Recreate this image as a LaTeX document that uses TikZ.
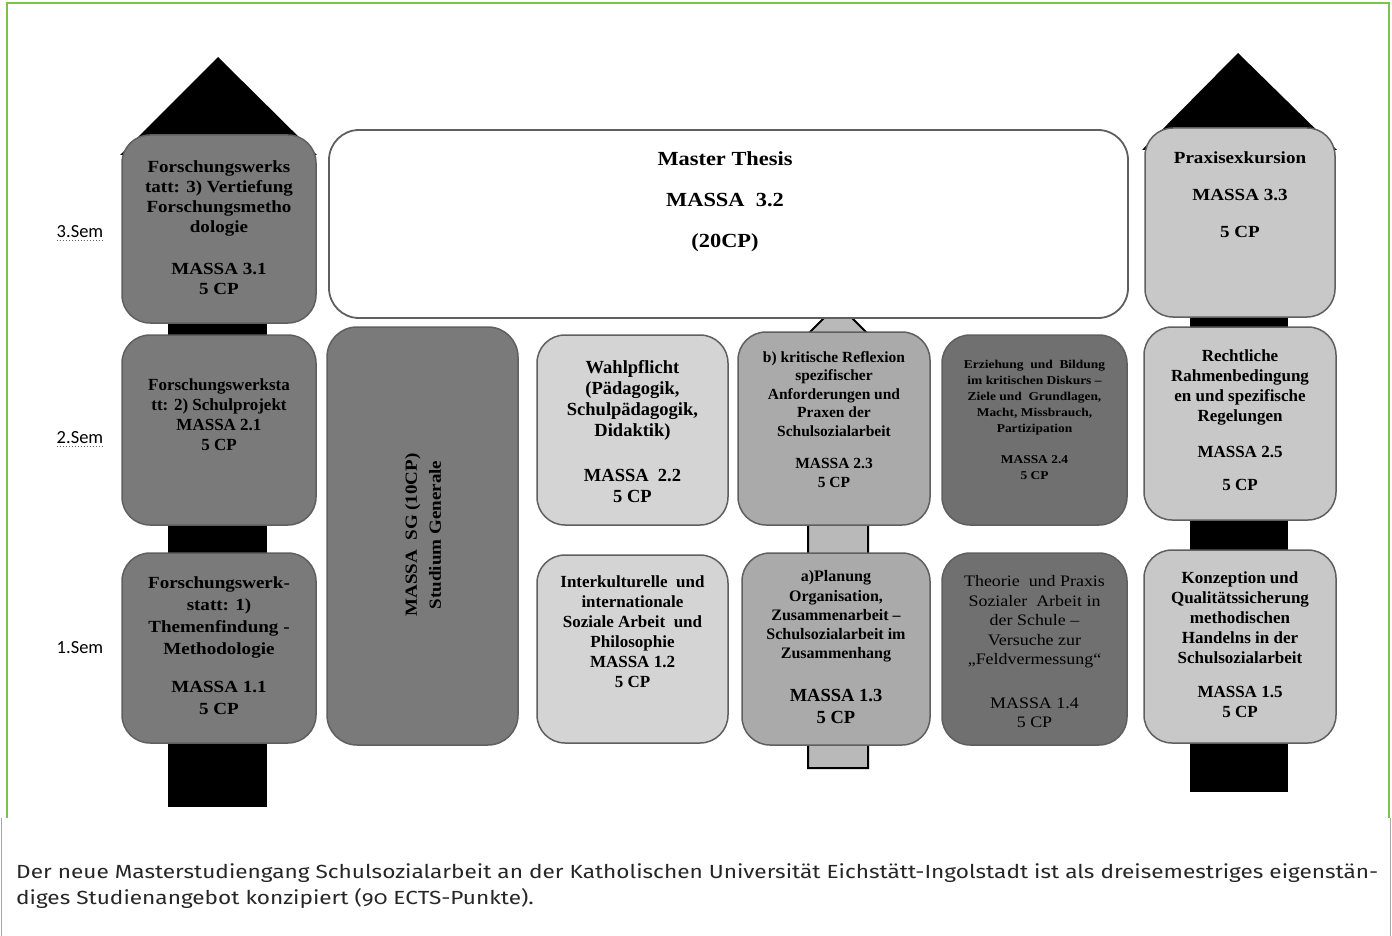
\documentclass[tikz,border=0pt]{standalone}
\usepackage{fontspec}
\setmainfont{Liberation Serif}
\newfontfamily\wide{Liberation Serif}[FakeStretch=1.12]
\newfontfamily\semfont{Carlito}
\newfontfamily\capfont{Fira Sans}[Numbers=OldStyle, FakeStretch=1.19]
\definecolor{cdark}{RGB}{122,122,122}
\definecolor{cdarker}{RGB}{112,112,112}
\definecolor{cmid}{RGB}{170,170,170}
\definecolor{clight}{RGB}{212,212,212}
\definecolor{cright}{RGB}{200,200,200}
\definecolor{cbar}{RGB}{185,185,185}
\definecolor{cborder}{RGB}{95,95,95}
\definecolor{cgreen}{RGB}{125,195,75}
\tikzset{
  mbox/.style={draw=cborder, line width=1.5pt, rounded corners=28pt, inner sep=0pt},
  lbl/.style={align=center, inner sep=0pt, font=\bfseries\fontsize{17}{20}\selectfont},
  wlbl/.style={align=center, inner sep=0pt, font=\wide\bfseries\fontsize{17}{20}\selectfont},
  semlbl/.style={inner sep=0pt, font=\semfont\fontsize{18.5}{20}\selectfont},
  caplbl/.style={inner sep=0pt, anchor=west, font=\capfont\fontsize{19}{22}\selectfont, text=black!85},
}
\begin{document}
\begin{tikzpicture}[x=1pt,y=-1pt]
\useasboundingbox (0,0) rectangle (1392,936);
% frame
\draw[cgreen, line width=1.2pt] (7,818) -- (7,3) -- (1389,3) -- (1389,818);
\draw[black!35, line width=0.8pt] (1.5,818) -- (1.5,936);
\draw[black!35, line width=0.8pt] (1390.5,818) -- (1390.5,936);
% roofs
\fill[black] (120,155) -- (218,57) -- (317,155) -- cycle;
\fill[black] (1142,150) -- (1238,53) -- (1337,150) -- cycle;
% spines
\fill[black] (168,150) rectangle (267,807);
\fill[black] (1190,150) rectangle (1288,792);
% central bar
\draw[fill=cbar, line width=2pt] (808,768) -- (868,768) -- (868,334) -- (838,304) -- (808,334) -- cycle;
% left column
\node[mbox, fill=cdark, minimum width=194pt, minimum height=188pt] (b31) at (219,229) {};
\node[mbox, fill=cdark, minimum width=194pt, minimum height=190pt] (b21) at (219,430) {};
\node[mbox, fill=cdark, minimum width=194pt, minimum height=190pt] (b11) at (219,648) {};
% SG
\node[mbox, fill=cdark, rounded corners=30pt, minimum width=191pt, minimum height=418pt] (bsg) at (422.5,536) {};
% middle
\node[mbox, fill=clight, minimum width=191pt, minimum height=190pt] (b22) at (632.5,430) {};
\node[mbox, fill=clight, minimum width=191pt, minimum height=188pt] (b12) at (632.5,649) {};
\node[mbox, fill=cmid, minimum width=192pt, minimum height=193pt] (b23) at (834,428.5) {};
\node[mbox, fill=cmid, minimum width=188pt, minimum height=192pt] (b13) at (836,649) {};
\node[mbox, fill=cdarker, minimum width=185pt, minimum height=190pt] (b24) at (1034.5,430) {};
\node[mbox, fill=cdarker, minimum width=185pt, minimum height=192pt] (b14) at (1034.5,649) {};
% right column
\node[mbox, fill=cright, minimum width=190pt, minimum height=189pt] (b33) at (1240,222.5) {};
\node[mbox, fill=cright, minimum width=192pt, minimum height=193pt] (b25) at (1240,423.5) {};
\node[mbox, fill=cright, minimum width=192pt, minimum height=193pt] (b15) at (1240,646.5) {};
% master thesis
\node[mbox, fill=white, line width=1.8pt, rounded corners=30pt, minimum width=799pt, minimum height=188pt] (b32) at (728.5,224) {};
% texts
\node[wlbl] (t31) at (219,228) {Forschungswerks\\tatt: 3) Vertiefung\\Forschungsmetho\\dologie\\[22pt]MASSA 3.1\\5 CP};
\node[lbl] (t21) at (219,414.5) {Forschungswerksta\\tt: 2) Schulprojekt\\MASSA 2.1\\5 CP};
\node[wlbl, font=\wide\bfseries\fontsize{17}{22}\selectfont] (t11) at (219,646) {Forschungswerk-\\statt: 1)\\Themenfindung -\\Methodologie\\[16pt]MASSA 1.1\\5 CP};
\node[wlbl, font=\wide\bfseries\fontsize{20}{21}\selectfont] (t32) at (725,201.5) {Master Thesis\\[20pt]MASSA\ \ 3.2\\[20pt](20CP)};
\node[wlbl, rotate=90, font=\wide\bfseries\fontsize{17}{24}\selectfont] (tsg) at (423,535) {MASSA\ \ SG (10CP)\\Studium Generale};
\node[lbl, font=\bfseries\fontsize{18.5}{21}\selectfont] (t22) at (632.5,431.5) {Wahlpflicht\\(Pädagogik,\\Schulpädagogik,\\Didaktik)\\[24pt]MASSA\ \ 2.2\\5 CP};
\node[lbl] (t12) at (632.5,632) {Interkulturelle\ \ und\\internationale\\Soziale Arbeit\ \ und\\Philosophie\\MASSA 1.2\\5 CP};
\node[lbl, font=\bfseries\fontsize{15.5}{18.5}\selectfont] (t23) at (834,419.5) {b) kritische Reflexion\\spezifischer\\Anforderungen und\\Praxen der\\Schulsozialarbeit\\[14pt]MASSA 2.3\\5 CP};
\node[lbl, font=\bfseries\fontsize{16}{19.25}\selectfont] (t13a) at (836,616.5) {a)Planung\\Organisation,\\Zusammenarbeit –\\Schulsozialarbeit im\\Zusammenhang};
\node[lbl, font=\bfseries\fontsize{18.5}{22}\selectfont] (t13b) at (836,706) {MASSA 1.3\\5 CP};
\node[wlbl, font=\wide\bfseries\fontsize{12}{16}\selectfont] (t24) at (1034.5,419.5) {Erziehung\ \ und\ \ Bildung\\im kritischen Diskurs –\\Ziele und\ \ Grundlagen,\\Macht, Missbrauch,\\Partizipation\\[15pt]MASSA 2.4\\5 CP};
\node[wlbl, font=\wide\fontsize{16}{19.5}\selectfont] (t14) at (1034.5,652) {Theorie\ \ und Praxis\\Sozialer\ \ Arbeit in\\der Schule –\\Versuche zur\\„Feldvermessung“\\[24pt]MASSA 1.4\\5 CP};
\node[wlbl] (t33) at (1240,194.5) {Praxisexkursion\\[17pt]MASSA 3.3\\[17pt]5 CP};
\node[lbl] (t25) at (1240,420) {Rechtliche\\Rahmenbedingung\\en und spezifische\\Regelungen\\[16pt]MASSA 2.5\\[13pt]5 CP};
\node[lbl] (t15) at (1240,645) {Konzeption und\\Qualitätssicherung\\methodischen\\Handelns in der\\Schulsozialarbeit\\[14pt]MASSA 1.5\\5 CP};
% semester labels
\node[semlbl] (s3) at (80,232) {3.Sem};
\node[semlbl] (s2) at (80,438) {2.Sem};
\node[semlbl] (s1) at (80,648) {1.Sem};
\draw[black!60, dotted, line width=1pt] ([yshift=-2pt]s3.south west) -- ([yshift=-2pt]s3.south east);
\draw[black!60, dotted, line width=1pt] ([yshift=-2pt]s2.south west) -- ([yshift=-2pt]s2.south east);
% caption
\node[caplbl] (cap1) at (16,873) {Der neue Masterstudiengang Schulsozialarbeit an der Katholischen Universität Eichstätt-Ingolstadt ist als dreisemestriges eigenstän-};
\node[caplbl] (cap2) at (16,898) {diges Studienangebot konzipiert (90 ECTS-Punkte).};
\end{tikzpicture}
\end{document}
